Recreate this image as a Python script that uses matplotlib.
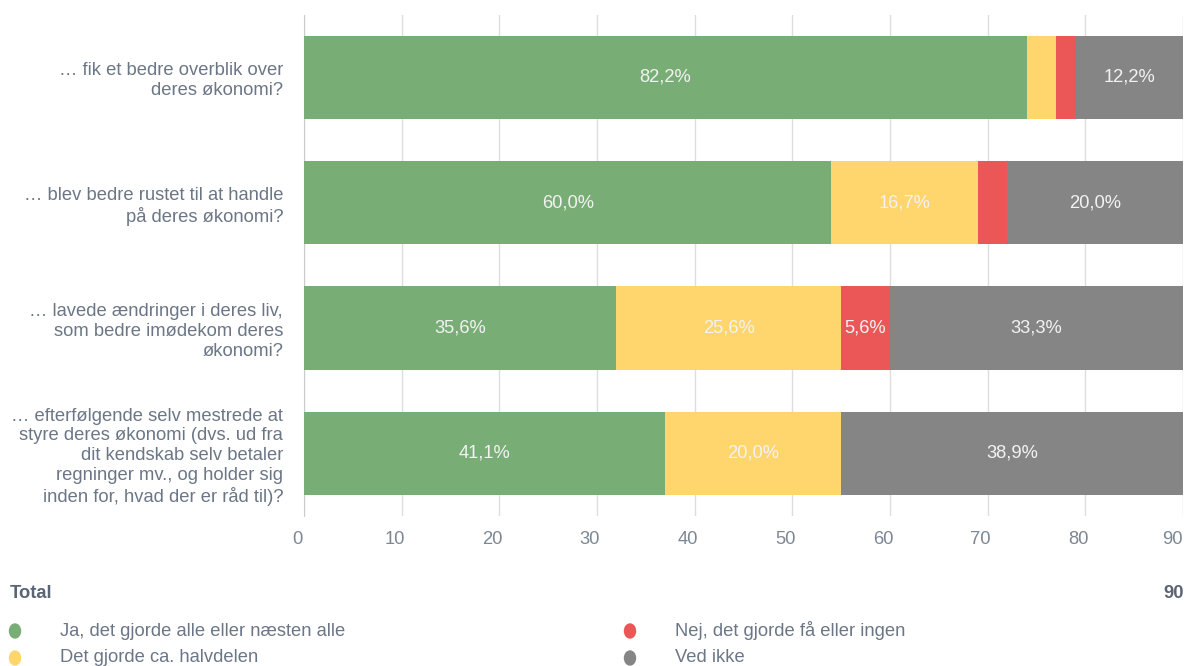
import numpy as np
import matplotlib.pyplot as plt
from matplotlib.patches import Ellipse
from matplotlib.transforms import ScaledTranslation

plt.rcParams['font.family'] = ['Liberation Sans', 'DejaVu Sans']

kategorier = [
    "… fik et bedre overblik over\nderes økonomi?",
    "… blev bedre rustet til at handle\npå deres økonomi?",
    "… lavede ændringer i deres liv,\nsom bedre imødekom deres\nøkonomi?",
    "… efterfølgende selv mestrede at\nstyre deres økonomi (dvs. ud fra\ndit kendskab selv betaler\nregninger mv., og holder sig\ninden for, hvad der er råd til)?",
]
serier = [
    "Ja, det gjorde alle eller næsten alle",
    "Det gjorde ca. halvdelen",
    "Nej, det gjorde få eller ingen",
    "Ved ikke",
]
ja = [74, 54, 32, 37]
halv = [3, 15, 23, 18]
nej = [2, 3, 5, 0]
ved_ikke = [11, 18, 30, 35]
total = 90

farver = ["#79ad76", "#ffd66e", "#eb5656", "#858585"]
tekst_farve = "#6b7686"
fs = 13.2

data = np.array([ja, halv, nej, ved_ikke], dtype=float)

fig = plt.figure(figsize=(11.85, 6.66), dpi=100)
ax = fig.add_axes([0.2565, 0.2252, 0.7418, 0.753])

y = np.arange(len(kategorier))
venstre = np.zeros(len(kategorier))
for i, vals in enumerate(data):
    ax.barh(y, vals, left=venstre, height=0.665, color=farver[i], zorder=3)
    for j, v in enumerate(vals):
        pct = v / total * 100
        if pct >= 5:
            ax.text(venstre[j] + v / 2, y[j], f"{pct:.1f}%".replace(".", ","),
                    ha="center", va="center", color="#f2f2f2", fontsize=fs, zorder=4)
    venstre += vals

ax.set_xlim(0, total)
ax.set_ylim(len(kategorier) - 0.5, -0.5)
ax.set_xticks(range(0, 91, 10))
ax.set_yticks(y)
ax.set_yticklabels(kategorier, fontsize=fs, color=tekst_farve, linespacing=1.22)
ax.tick_params(axis="y", length=0, pad=15)
ax.tick_params(axis="x", length=0, pad=11, labelsize=fs, labelcolor="#7d8794")
skift = ScaledTranslation(-7 / 100, 0, fig.dpi_scale_trans)
for lbl in ax.get_xticklabels()[:-1]:
    lbl.set_transform(lbl.get_transform() + skift)
ax.get_xticklabels()[-1].set_horizontalalignment("right")
ax.grid(axis="x", color="#dddddd", linewidth=1, zorder=0)
for s in ["top", "right", "bottom"]:
    ax.spines[s].set_visible(False)
ax.spines["left"].set_color("#cccccc")

fig.text(10 / 1185, 1 - 593 / 666, "Total", fontsize=fs, fontweight="bold",
         color="#5a6474", va="center", ha="left")
fig.text(1184 / 1185, 1 - 593 / 666, str(total), fontsize=fs, fontweight="bold",
         color="#5a6474", va="center", ha="right")

pos = [(15, 631), (15, 658), (630, 631), (630, 658)]
for (px, py), navn, f in zip(pos, serier, farver):
    fig.add_artist(Ellipse((px / 1185, 1 - py / 666), 11 / 1185, 14 / 666, color=f,
                           transform=fig.transFigure))
    fig.text((px + 45) / 1185, 1 - py / 666, navn, fontsize=fs, color=tekst_farve,
             va="center", ha="left")

fig.savefig("out.png", dpi=100)
